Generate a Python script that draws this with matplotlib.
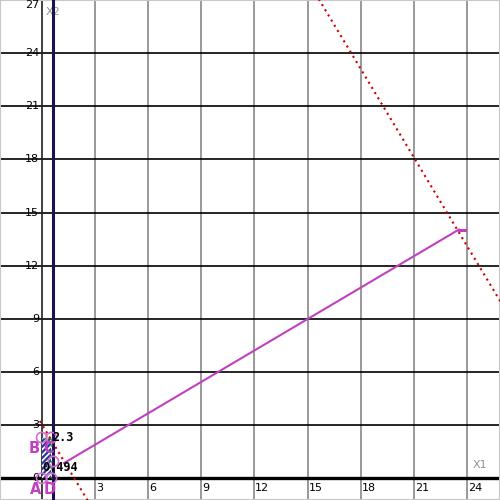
import matplotlib
matplotlib.use("Agg")
import matplotlib.pyplot as plt
import numpy as np

# ---- data ----
x_ticks = [3, 6, 9, 12, 15, 18, 21, 24]
y_ticks = [0, 3, 6, 9, 12, 15, 18, 21, 24, 27]
x_lim = [-2.35, 25.85]
y_lim = [-1.225, 27.0]

# feasible region corners A, B, C, D
region_x = [0.0, 0.0, 0.55, 0.55]
region_y = [0.0, 2.3, 2.3, 0.0]
point_labels = ["A", "B", "C", "D"]

constraint_x1 = 0.665          # vertical constraint line x1 = const
obj_coef = [5, 3]              # objective 5*x1 + 3*x2
iso_low = 9.2                  # iso-objective levels
iso_high = 159.3
grad_start = [1.26, 0.86]      # objective gradient vector
grad_end = [23.53, 14.04]
extra_point = [0.66, 0.95]
value_labels = ["2.3", "0.494"]

fig = plt.figure(figsize=(5, 5), dpi=100)
ax = fig.add_axes([0, 0, 1, 1])
ax.set_xlim(*x_lim)
ax.set_ylim(*y_lim)
ax.set_xticks([]); ax.set_yticks([])
for s in ax.spines.values():
    s.set_color("#c8c8c8"); s.set_linewidth(1.5)

# grid
for xv in x_ticks:
    ax.axvline(xv, color="#888888", lw=1.2, zorder=1)
for yv in y_ticks[1:]:
    ax.axhline(yv, color="black", lw=1.2, zorder=1)
ax.axhline(0, color="black", lw=2.4, zorder=2)
ax.axvline(0, color="#202020", lw=1.2, zorder=2)

# tick labels
for xv in x_ticks:
    ax.text(xv + 0.05, -0.55, str(xv), ha="left", va="center", fontsize=8,
            family="DejaVu Sans", zorder=5)
for yv in y_ticks:
    if yv == y_ticks[-1]:
        ax.text(-0.15, yv, str(yv), ha="right", va="top", fontsize=8,
                family="DejaVu Sans", zorder=5)
    else:
        ax.text(-0.15, yv, str(yv), ha="right", va="center", fontsize=8,
                family="DejaVu Sans", zorder=5)
ax.text(24.3, 0.75, "X1", color="#909090", fontsize=8, ha="left", va="center")
ax.text(0.2, 26.3, "X2", color="#909090", fontsize=8, ha="left", va="center")

# constraint line
ax.axvline(constraint_x1, color="#1c1050", lw=2.2, zorder=3)

# feasible region
plt.rcParams["hatch.linewidth"] = 1.6
ax.fill(region_x, region_y, facecolor="white", edgecolor="#2535a0",
        hatch="//////", lw=0, zorder=3)
ax.plot([region_x[2], region_x[3]], [region_y[2], region_y[3]],
        color="#30c030", lw=1, ls=(0, (2, 2)), zorder=4)
ax.plot([region_x[1], region_x[2]], [region_y[1], region_y[2]],
        color="#30c030", lw=1, ls=(0, (2, 2)), zorder=4)

# iso-objective lines
def iso(c, xs):
    xs = np.array(xs)
    return (c - obj_coef[0] * xs) / obj_coef[1]

xs_low = [-0.1, 2.6]
ax.plot(xs_low, iso(iso_low, xs_low), color="#cc0000", lw=1.5,
        ls=(0, (1, 1.9)), zorder=4)
xs_high = [15.0, 26.0]
ax.plot(xs_high, iso(iso_high, xs_high), color="#cc0000", lw=1.5,
        ls=(0, (1, 1.9)), zorder=4)

# gradient vector
ax.plot([grad_start[0], grad_end[0]], [grad_start[1], grad_end[1]],
        color="#c040c0", lw=1.5, zorder=5)
ax.plot([grad_end[0], grad_end[0] + 0.35], [grad_end[1], grad_end[1]],
        color="#c040c0", lw=2.2, zorder=5)

# vertex circles
ax.scatter(region_x + [extra_point[0]], region_y + [extra_point[1]], s=55,
           facecolors="none", edgecolors="#d070d0", linewidths=1.2, zorder=6)

# vertex labels
lab_pos = {"A": (-0.32, -0.66), "B": (-0.4, 1.71), "C": (0.38, 1.71), "D": (0.47, -0.66)}
for name in point_labels:
    px, py = lab_pos[name]
    ax.text(px, py, name, color="#c040c0", fontsize=10.5, fontweight="bold",
            ha="center", va="center", zorder=7)

ax.text(0.6, 2.32, value_labels[0], color="black", fontsize=8.5, family="DejaVu Sans Mono",
        fontweight="bold", ha="left", va="center", zorder=7)
ax.text(0.05, 0.6, value_labels[1], color="black", fontsize=8.5, family="DejaVu Sans Mono",
        fontweight="bold", ha="left", va="center", zorder=7)

fig.savefig("out.png", dpi=100)
